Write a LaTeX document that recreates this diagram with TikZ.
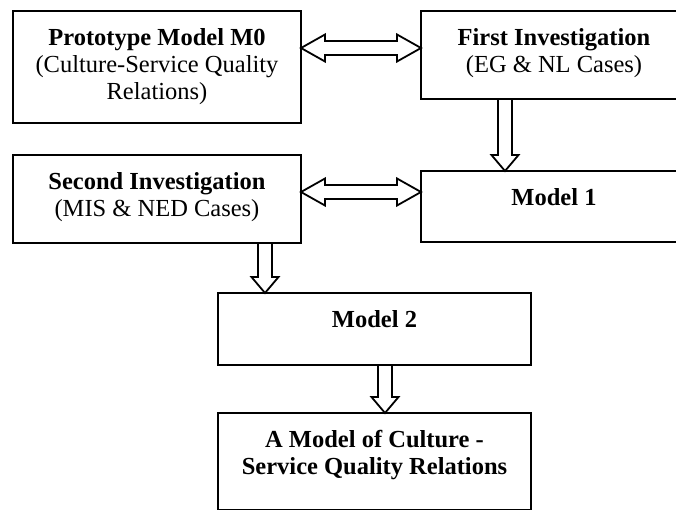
\documentclass[tikz,border=0pt]{standalone}
\usepackage{fontspec}
\setmainfont{Liberation Serif}
\usetikzlibrary{calc}
\tikzset{
  stage/.style={draw, line width=2.5pt, inner sep=0pt, outer sep=0pt},
  blockarrow/.style={draw, line width=1.8pt, line join=miter}
}
\newcommand{\stagetext}[3]{\parbox[c][#2][t]{#1}{\centering\fontsize{24.5}{27}\selectfont\vspace*{17.5pt}#3}}
\newcommand{\hdarrow}[2]{%
  \draw[blockarrow] let \p1=(#1), \p2=(#2) in
    (\x1,\y1) -- (\x1+24pt,\y1+13.5pt) -- (\x1+24pt,\y1+7pt) -- (\x2-24pt,\y1+7pt) -- (\x2-24pt,\y1+13.5pt) -- (\x2,\y1)
    -- (\x2-24pt,\y1-13.5pt) -- (\x2-24pt,\y1-7pt) -- (\x1+24pt,\y1-7pt) -- (\x1+24pt,\y1-13.5pt) -- cycle;}
\newcommand{\vsarrow}[2]{%
  \draw[blockarrow] let \p1=(#1), \p2=(#2) in
    (\x1-7pt,\y1) -- (\x1+7pt,\y1) -- (\x1+7pt,\y2+16pt) -- (\x1+13.5pt,\y2+16pt) -- (\x1,\y2)
    -- (\x1-13.5pt,\y2+16pt) -- (\x1-7pt,\y2+16pt) -- cycle;}
\begin{document}
\begin{tikzpicture}[x=1pt,y=-1pt]
  \useasboundingbox (0,0) rectangle (676,509);
  \node[stage] (proto) at (157,67) {\stagetext{288pt}{112pt}{\textbf{Prototype Model M0}\\(Culture-Service Quality\\Relations)}};
  \node[stage] (first) at (554,55) {\stagetext{266pt}{88pt}{\textbf{First Investigation}\\(EG \& NL Cases)}};
  \node[stage] (second) at (157,199) {\stagetext{288pt}{88pt}{\textbf{Second Investigation}\\(MIS \& NED Cases)}};
  \node[stage] (model1) at (554,206.5) {\stagetext{266pt}{71pt}{\textbf{Model 1}}};
  \node[stage] (model2) at (374.5,329) {\stagetext{313pt}{72pt}{\textbf{Model 2}}};
  \node[stage] (final) at (374.5,461.5) {\stagetext{313pt}{97pt}{\textbf{A Model of Culture -}\\\textbf{Service Quality Relations}}};
  \path (proto.north east) ++(0,37) coordinate (protoport)
        (second.north east) ++(0,37) coordinate (secondport)
        (first.south west) ++(84,0) coordinate (firstport)
        (second.south west) ++(252,0) coordinate (seconddown)
        (model2.south) ++(10.5,0) coordinate (model2port);
  \hdarrow{protoport}{first.west}
  \hdarrow{secondport}{model1.west}
  \vsarrow{firstport}{model1.north}
  \vsarrow{seconddown}{model2.north}
  \vsarrow{model2port}{final.north}
\end{tikzpicture}
\end{document}
